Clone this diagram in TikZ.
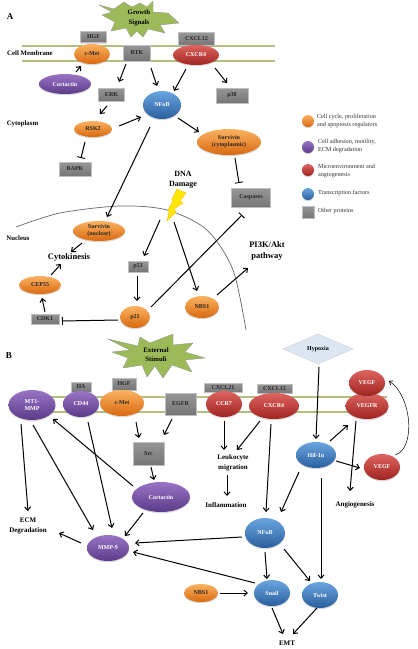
\documentclass[tikz,border=0pt]{standalone}
\usepackage{fontspec}
\setmainfont{Liberation Serif}
\usetikzlibrary{shapes.geometric,arrows.meta,shadows,calc}
\definecolor{memb}{HTML}{B4BE80}
\definecolor{oT}{HTML}{FBB262}\definecolor{oM}{HTML}{F58B25}\definecolor{oB}{HTML}{D9690F}
\definecolor{pT}{HTML}{9A74C4}\definecolor{pM}{HTML}{7A50A8}\definecolor{pB}{HTML}{5C3A8A}
\definecolor{rT}{HTML}{DE6460}\definecolor{rM}{HTML}{C8312C}\definecolor{rB}{HTML}{A02420}
\definecolor{bT}{HTML}{6AA6E0}\definecolor{bM}{HTML}{3A7CC8}\definecolor{bB}{HTML}{2A5E9E}
\definecolor{gT}{HTML}{969696}\definecolor{gB}{HTML}{767676}
\definecolor{starg}{HTML}{9CBB58}\definecolor{diam}{HTML}{DCE6F2}
\tikzset{
  x=1pt,y=-1pt,
  every node/.style={inner sep=0pt,outer sep=0pt,align=center,font=\fontsize{6}{7}\selectfont\bfseries},
  ballbase/.style={ellipse,minimum width=2*#1,drop shadow={shadow xshift=0pt,shadow yshift=-1.2pt,opacity=.3}},
  orangeb/.style={ballbase=#1,top color=oT,middle color=oM,bottom color=oB,text=black!85},
  purpleb/.style={ballbase=#1,top color=pT,middle color=pM,bottom color=pB,text=white},
  redb/.style={ballbase=#1,top color=rT,middle color=rM,bottom color=rB,text=white},
  blueb/.style={ballbase=#1,top color=bT,middle color=bM,bottom color=bB,text=white},
  greybox/.style={rectangle,top color=gT,bottom color=gB,text=black!85,draw=black!25,line width=.3pt,drop shadow={shadow xshift=0pt,shadow yshift=-1pt,opacity=.3}},
  lbl/.style={font=\fontsize{7}{10}\selectfont\bfseries},
  biglbl/.style={font=\fontsize{8.5}{10.5}\selectfont\bfseries},
  sidelbl/.style={font=\fontsize{6.8}{8}\selectfont\bfseries},
  legtxt/.style={font=\fontsize{6.2}{8}\selectfont,align=left,anchor=west,text=black!80},
  arr/.style={-{Straight Barb[length=3.4pt,width=6pt,line width=1pt]},line width=1pt,black},
  inh/.style={-{Bar[width=8pt,line width=.9pt]},line width=1pt,black},
  membrane/.style={memb,line width=1.4pt},
  starshape/.style={fill=starg,draw=black!45,line width=.3pt},
}
\newcommand{\conn}[5]{\draw[#1] ([shift={(#3)}]#2.center) -- ([shift={(#5)}]#4.center);}
\newcommand{\boxat}[5]{\node[greybox,minimum width=#3pt,minimum height=#4pt] (#1) at (#2) {#5};}
\begin{document}
\begin{tikzpicture}
\useasboundingbox (0,0) rectangle (418,649);
\fill[white] (0,0) rectangle (418,649);

% ---------- Panel A ----------
\node[font=\fontsize{9}{10}\selectfont\bfseries] (labA) at (10,17) {A};
\draw[membrane] (22,46) -- (275,46);
\draw[membrane] (22,61) -- (275,61);
\draw[starshape] (99,5)--(114,9)--(124,2)--(132,7)--(140,3)--(147,7)--(153,1)--(153,12)--(168,13)--(179,23)--(160,25)--(165,33)--(148,29)--(143,37)--(137,31)--(131,37)--(126,28)--(111,31)--(115,22)--(102,15)--(112,12)--cycle;
\node[font=\fontsize{6.8}{9.5}\selectfont\bfseries] (growth) at (139,18) {Growth\\Signals};
\node[sidelbl] (cmlab) at (30,53) {Cell Membrane};
\node[sidelbl] (cylab) at (22.5,124) {Cytoplasm};
\node[sidelbl] (nulab) at (18,238) {Nucleus};
\boxat{hgfa}{93.5,37}{26}{11}{HGF}
\boxat{cxcla}{196.5,39}{36}{13}{CXCL12}
\boxat{rtk}{137,53}{27}{16}{RTK}
\node[orangeb=18pt,minimum height=20pt] (cmeta) at (92,54) {c-Met};
\node[redb=23pt,minimum height=20pt] (cxcra) at (196,55) {CXCR4};
\node[purpleb=26pt,minimum height=20pt] (corta) at (65,84) {Cortactin};
\boxat{erk}{111.5,94.5}{26}{13}{ERK}
\boxat{pthreeeight}{232,95.5}{32}{15}{p38}
\node[blueb=19pt,minimum height=28pt] (nfa) at (162,105) {NFκB};
\node[orangeb=19pt,minimum height=16pt] (rsk) at (93,129) {RSK2};
\boxat{bapk}{75,169}{32}{14}{BAPK}
\node[orangeb=32pt,minimum height=26pt] (survc) at (229,142) {Survivin\\(cytoplasmic)};
\boxat{casp}{251,197.5}{39}{19}{Caspases}
\node[font=\fontsize{8}{10.5}\selectfont\bfseries] (dna) at (183,179.5) {DNA\\Damage};
\draw[black!60,line width=.7pt] plot[smooth] coordinates {(16,227) (60,213) (120,206) (167,210) (207,230) (233,270) (246,330)};
\fill[yellow!90!orange,draw=orange!60!yellow,line width=.3pt] (177,189)--(186,193)--(180,201)--(183,203)--(174,209)--(176,212)--(167,221)--(169,212)--(168,210)--(173,201)--(172,199)--cycle;
\node[orangeb=26pt,minimum height=20pt] (survn) at (99,231) {Survivin\\(nuclear)};
\node[biglbl] (cyto) at (69,257) {Cytokinesis};
\node[orangeb=21pt,minimum height=18pt] (cep) at (40,285) {CEP55};
\boxat{pfifty}{138,266.5}{20}{11}{p53}
\node[orangeb=15pt,minimum height=22pt] (ptwo) at (135,317) {p21};
\boxat{cdk}{45,319}{28}{10}{CDK1}
\node[orangeb=17pt,minimum height=22pt] (nbsa) at (202,307) {NBS1};
\node[biglbl] (pik) at (267,251) {PI3K/Akt\\pathway};

\conn{arr}{corta}{11,-12}{cmeta}{-11,12}
\conn{arr}{rtk}{-11,11}{erk}{7.5,-12.5}
\conn{arr}{rtk}{14,15}{nfa}{-5,-19}
\conn{arr}{cxcra}{-10,14}{nfa}{12,-14}
\conn{arr}{cxcra}{19,13}{pthreeeight}{-5,-12.5}
\conn{arr}{erk}{-4.5,11.5}{rsk}{7,-15}
\conn{arr}{rsk}{26,-3}{nfa}{-21,12}
\conn{inh}{rsk}{-8,13}{bapk}{6,-11}
\conn{arr}{nfa}{16,13}{survc}{-30,-10}
\conn{arr}{nfa}{-12,22}{survn}{8,-14}
\conn{inh}{survc}{6,16}{casp}{-12,-14.5}
\conn{arr}{dna}{-23,40.5}{pfifty}{6,-10.5}
\conn{arr}{dna}{-9,42.5}{nbsa}{-5,-16}
\conn{arr}{pfifty}{-1,9.5}{ptwo}{2,-16}
\conn{inh}{ptwo}{-17,3}{cdk}{17,2}
\conn{arr}{cdk}{0,-7}{cep}{2,13}
\conn{arr}{cep}{11,-10}{cyto}{-8,7}
\conn{arr}{survn}{-17,12}{cyto}{2,-5}
\conn{inh}{ptwo}{16,-10}{casp}{-9,17.5}
\conn{arr}{nbsa}{15,-12}{pik}{-19,17}

% ---------- Legend ----------
\node[orangeb=6pt,minimum height=12pt] (lo) at (308,121) {};
\node[purpleb=6pt,minimum height=12pt] (lp) at (308,147) {};
\node[redb=6pt,minimum height=12pt] (lr) at (308,170) {};
\node[blueb=6pt,minimum height=12pt] (lb) at (308,194) {};
\boxat{lg}{308,212}{12}{12}{}
\node[legtxt] (to) at (317,121) {Cell cycle, proliferation\\and apoptosis regulators};
\node[legtxt] (tp) at (318,146) {Cell adhesion, motility,\\ECM degradation};
\node[legtxt] (tr) at (318,171) {Microenvironment and\\angiogenesis};
\node[legtxt] (tb) at (318,193) {Transcription factors};
\node[legtxt] (tg) at (318,211) {Other proteins};

% ---------- Panel B ----------
\node[font=\fontsize{9}{10}\selectfont\bfseries] (labB) at (9,356) {B};
\draw[membrane] (30,397) -- (387,397);
\draw[membrane] (30,412) -- (387,412);
\draw[starshape] (108,339)--(138,346)--(140,337)--(150,343)--(173,334)--(173,345)--(193,343)--(185,352)--(205,358)--(185,360)--(192,372)--(172,365)--(163,378)--(155,366)--(147,377)--(142,365)--(123,368)--(128,358)--(112,352)--(130,350)--cycle;
\node[font=\fontsize{6.8}{9}\selectfont\bfseries] (ext) at (156,354.5) {External\\Stimuli};
\node[diamond,aspect=2.33,fill=diam,draw=black!20,line width=.3pt,minimum width=70pt,minimum height=30pt,inner sep=0pt] (hyp) at (318,349) {Hypoxia};
\boxat{ha}{81,387}{20}{10}{HA}
\boxat{hgfb}{124,384}{24}{12}{HGF}
\boxat{egfr}{180.5,404}{31}{22}{EGFR}
\boxat{cxclb}{223,387.5}{38}{9}{CXCL21}
\boxat{cxclc}{274.5,388.5}{35}{9}{CXCL12}
\node[purpleb=23.5pt,minimum height=30pt] (mt) at (32,405) {MT1-\\MMP};
\node[purpleb=18pt,minimum height=26pt] (cd) at (81,404) {CD44};
\node[orangeb=22pt,minimum height=26pt] (cmetb) at (122,403) {c-Met};
\node[redb=18pt,minimum height=26pt] (ccr) at (224,404) {CCR7};
\node[redb=25pt,minimum height=26pt] (cxcrb) at (274,406) {CXCR4};
\node[redb=21.5pt,minimum height=26pt] (vegfr) at (367,406) {VEGFR};
\node[redb=18pt,minimum height=26pt] (vegft) at (367,383) {VEGF};
\boxat{src}{148.5,453.5}{31}{23}{Src}
\node[purpleb=29pt,minimum height=30pt] (cortb) at (161,497) {Cortactin};
\node[lbl] (leuk) at (233,463) {Leukocyte\\migration};
\node[lbl] (infl) at (226,505) {Inflammation};
\node[lbl] (angio) at (355,505) {Angiogenesis};
\node[blueb=20pt,minimum height=26pt] (hif) at (316,455) {Hif-1α};
\node[redb=18pt,minimum height=26pt] (vegfs) at (382,467) {VEGF};
\node[lbl] (ecm) at (28,525.5) {ECM\\Degradation};
\node[purpleb=21pt,minimum height=26pt] (mmp) at (108,548) {MMP-9};
\node[blueb=20pt,minimum height=30pt] (nfb) at (265,533) {NFκB};
\node[blueb=18pt,minimum height=26pt] (snail) at (272,593) {Snail};
\node[blueb=18pt,minimum height=26pt] (twist) at (320,595) {Twist};
\node[orangeb=17pt,minimum height=18pt] (nbsb) at (201,593) {NBS1};
\node[lbl] (emt) at (287,643) {EMT};

\conn{arr}{cmetb}{14,19}{src}{-9.5,-15.5}
\conn{arr}{egfr}{-8.5,15}{src}{15.5,-18.5}
\conn{arr}{src}{2.5,13.5}{cortb}{-7,-17}
\conn{arr}{cortb}{-28,-11}{mt}{21,14}
\conn{arr}{mt}{-11,19}{ecm}{0,-14.5}
\conn{arr}{mt}{1,20}{mmp}{-15,-18}
\conn{arr}{cd}{7,18}{mmp}{4,-20}
\conn{arr}{cortb}{-18,16}{mmp}{17,-12}
\conn{arr}{mmp}{-27,-5}{ecm}{31,7.5}
\conn{arr}{ccr}{0,17}{leuk}{-9,-13}
\conn{arr}{cxcrb}{-14,15}{leuk}{4,-13}
\conn{arr}{leuk}{-6,12}{infl}{1,-9}
\conn{arr}{cxcrb}{-3,18}{nfb}{1,-21}
\conn{arr}{hif}{-17,17}{nfb}{16,-21}
\conn{arr}{hif}{5,23}{twist}{1,-16}
\conn{arr}{hyp}{1,18}{hif}{0,-16}
\conn{arr}{hif}{14,-14}{vegfr}{-19,19}
\conn{arr}{hif}{20,6}{vegfs}{-22,1}
\conn{arr}{vegfr}{-11,15}{angio}{-5,-14}
\draw[-{Straight Barb[length=3pt,width=5pt,line width=.7pt]},line width=.5pt] ([shift={(13,-12)}]vegfs.center) .. controls (416,449) and (412,396) .. ([shift={(22,-2)}]vegft.center);
\conn{arr}{nfb}{-23,4}{mmp}{27,-5}
\conn{arr}{snail}{-17,-10}{mmp}{25,4}
\conn{arr}{nfb}{0,19}{snail}{-5,-14}
\conn{arr}{nfb}{19,16}{twist}{-10,-14}
\conn{arr}{nbsb}{19,0}{snail}{-24,0}
\conn{arr}{snail}{0,15}{emt}{-4,-9}
\conn{arr}{twist}{-3,13}{emt}{6,-9}
\end{tikzpicture}
\end{document}
